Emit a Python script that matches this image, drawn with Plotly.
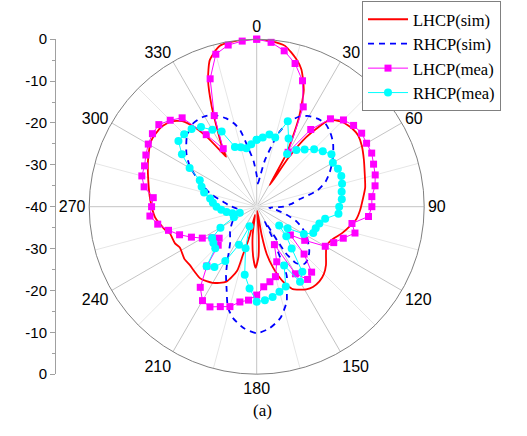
import plotly.graph_objects as go

# ---------------- data ----------------
lhcp_sim_theta = [0, 5, 10, 15, 18, 22, 25.6, 29.3, 31, 33, 35.5, 40, 45, 51, 55, 60, 66, 72, 80, 86,
                  92, 97, 102, 107, 112, 117, 120, 125, 130, 135, 140, 145, 149, 153, 156.4, 160.8,
                  165, 168, 170, 172, 176, 178, 181, 184, 188, 190, 192, 193.5, 195, 196, 197, 202,
                  210, 218, 229, 234, 242, 246, 253, 256, 264, 274, 284, 293, 302, 310, 315, 319,
                  322, 324.5, 327, 328.5, 330, 332.4, 335.8, 339, 342.3, 347, 354, 360]
lhcp_sim_r = [0, -0.3, -1.0, -3.5, -5.5, -10, -17, -25.4, -34, -26, -19.5, -13, -11.3, -10.5, -10.4,
              -11, -12, -12.9, -13.7, -14.6, -15.3, -16, -17.3, -18.6, -20, -20.8, -20.8, -19.8,
              -18.4, -17.3, -16.7, -16.6, -17, -17.8, -18.5, -21.2, -25, -28.4, -33, -39, -33, -28,
              -25.4, -28, -33, -37, -38, -33, -30, -28, -24, -20.7, -19, -18.2, -18.8, -18.7, -19.2,
              -18.6, -18.3, -17.4, -15.6, -14.5, -13.3, -11.8, -10.3, -10.3, -11.2, -12.9, -15.9,
              -19.5, -24, -26, -23.5, -20.2, -13.8, -7.6, -3.2, -0.6, 0, 0]

rhcp_sim_theta = [0, 3, 6, 10, 14, 16.5, 20, 25, 30, 35, 40, 45, 50, 55, 60, 65, 70, 75, 80, 85, 90,
                  95, 100, 105, 110, 115, 120, 125, 130, 135, 140, 145, 148, 151, 153, 154.5, 155.5,
                  156.5, 160, 162.5, 168, 174, 180, 186, 192, 196, 200, 204, 207, 212, 217, 227, 237,
                  247, 257, 265, 272, 278.5, 286, 294.6, 301, 307, 315, 322, 329, 335, 341, 345, 348,
                  352, 356, 360]
rhcp_sim_r = [-32.5, -34.5, -33, -28.7, -24.8, -21.7, -18.8, -16.3, -15, -14.4, -14.3, -15.1, -16.2,
              -17.7, -19.2, -20.8, -22.5, -25, -29.5, -31.5, -33.6, -37, -35, -32.6, -30, -28, -26.3,
              -25, -23.6, -22.6, -22.2, -23.5, -27, -36, -32, -29, -25, -22, -19, -16.2, -12.8,
              -10.8, -9.8, -10.8, -12.8, -15, -19, -22, -24.3, -27.5, -29.5, -31.3, -33, -34.8, -36,
              -35.2, -33.5, -31.9, -28.4, -24.7, -21.4, -19, -16.4, -15, -15, -15.8, -17.7, -19.5,
              -21.5, -26, -29, -32.5]

mea_theta = list(range(0, 365, 5))
lhcp_mea_r = [0, -0.6, -2.2, -4.6, -8.0, -13.7, -25.0, -17.5, -12.6, -10.7, -9.8, -9.4, -9.7, -9.7,
              -10.3, -10.7, -11.3, -12.4, -12.5, -13.2, -16.9, -15.7, -18.0, -19.7, -21.1, -26.0,
              -29.5, -24.0, -19.6, -18.8, -21.5, -30.0, -26.0, -22.7, -21.8, -20.8, -18.9, -17.6,
              -16.9, -15.3, -14.6, -13.6, -14.1, -16.5, -21.5, -27.0, -28.3, -27.0, -25.0, -22.8,
              -20.4, -18.2, -16.0, -14.4, -14.9, -15.2, -12.7, -11.6, -11.5, -10.8, -10.1, -9.6,
              -9.5, -10.8, -12.3, -19.0, -24.0, -16.0, -7.5, -2.3, -0.8, -0.3, 0]
rhcp_mea_r = [-24.0, -23.4, -22.5, -22.9, -18.3, -22.0, -25.5, -23.5, -22.2, -20.6, -19.4, -18.2,
              -19.0, -18.6, -18.5, -18.9, -19.4, -19.6, -20.3, -20.4, -23.4, -24.5, -25.0, -25.1,
              -27.0, -31.0, -33.0, -30.0, -27.0, -21.0, -19.3, -24.5, -19.7, -19.0, -18.1, -17.6,
              -17.3, -20.4, -23.5, -29.7, -35.0, -30.0, -25.0, -22.4, -21.4, -26.0, -26.5, -27.0,
              -30.0, -34.0, -35.7, -34.0, -32.7, -31.5, -30.4, -29.5, -28.7, -27.0, -26.0, -25.0,
              -21.5, -18.2, -15.6, -15.5, -15.8, -16.8, -18.8, -20.2, -24.8, -25.3, -25.8, -25.0,
              -24.0]

angle_ticks = list(range(0, 360, 30))
minor_spokes = list(range(15, 360, 30))
r_min, r_max = -40, 0
left_tickvals = [-40, -30, -20, -10, 0, 10, 20, 30, 40]
left_ticktext = ["0", "-10", "-20", "-30", "-40", "-30", "-20", "-10", "0"]
left_minor = [-35, -25, -15, -5, 5, 15, 25, 35]

# ---------------- figure ----------------
W, H = 527, 436
cx, cy, R = 256.7, 206.7, 167.5
dom_x = [(cx - R) / W, (cx + R) / W]
dom_y = [1 - (cy + R) / H, 1 - (cy - R) / H]
SANS = "Liberation Sans, Arial, sans-serif"
SERIF = "Liberation Serif, Times New Roman, serif"

fig = go.Figure()

# light minor spokes
sp_t, sp_r = [], []
for a in minor_spokes:
    sp_t += [a, a, None]
    sp_r += [r_min, r_max, None]
fig.add_trace(go.Scatterpolar(theta=sp_t, r=sp_r, mode="lines",
                              line=dict(color="#e6e6e6", width=1),
                              showlegend=False, hoverinfo="skip"))

fig.add_trace(go.Scatterpolar(theta=lhcp_sim_theta, r=lhcp_sim_r, mode="lines",
                              name="LHCP(sim)", line=dict(color="#ff0000", width=1.8, shape="spline", smoothing=0.6)))
fig.add_trace(go.Scatterpolar(theta=rhcp_sim_theta, r=rhcp_sim_r, mode="lines",
                              name="RHCP(sim)", line=dict(color="#0000ff", width=1.8, dash="6px,5px",
                                                          shape="spline", smoothing=0.6)))
fig.add_trace(go.Scatterpolar(theta=mea_theta, r=lhcp_mea_r, mode="lines+markers",
                              name="LHCP(mea)", line=dict(color="#ff00ff", width=1),
                              marker=dict(symbol="square", size=7, color="#ff00ff")))
fig.add_trace(go.Scatterpolar(theta=mea_theta, r=rhcp_mea_r, mode="lines+markers",
                              name="RHCP(mea)", line=dict(color="#00ffff", width=1),
                              marker=dict(symbol="circle", size=8, color="#00ffff")))

# helper trace for the left scale
fig.add_trace(go.Scatter(x=[0], y=[0], mode="markers", marker=dict(opacity=0),
                         showlegend=False, hoverinfo="skip", xaxis="x", yaxis="y"))

fig.update_layout(
    template="none",
    width=W, height=H,
    margin=dict(l=0, r=0, t=0, b=0, pad=0, autoexpand=False),
    paper_bgcolor="white", plot_bgcolor="rgba(0,0,0,0)",
    font=dict(family=SANS, size=14, color="black"),
    polar=dict(
        domain=dict(x=dom_x, y=dom_y),
        bgcolor="white",
        radialaxis=dict(range=[r_min, r_max], showgrid=False, showline=False,
                        showticklabels=False, ticks=""),
        angularaxis=dict(rotation=90, direction="clockwise", tickmode="array",
                         tickvals=angle_ticks, ticktext=[str(a) for a in angle_ticks],
                         showline=True, linecolor="#808080", linewidth=1,
                         gridcolor="#c4c4c4", gridwidth=1, ticks="",
                         tickfont=dict(family=SANS, size=16)),
    ),
    xaxis=dict(domain=[56 / W, 0.15], visible=False, range=[0, 1], fixedrange=True, automargin=False),
    yaxis=dict(domain=dom_y, range=[-40, 40], anchor="x", showline=True, linecolor="#a0a0a0",
               linewidth=1, tickmode="array", tickvals=left_tickvals, ticktext=left_ticktext,
               ticks="outside", ticklen=5, tickcolor="#a0a0a0", showgrid=False, zeroline=False,
               automargin=False,
               minor=dict(tickvals=left_minor, ticks="outside", ticklen=3, tickcolor="#a0a0a0"),
               tickfont=dict(family=SANS, size=15)),
    legend=dict(x=362 / W, y=1 - 1 / H, xanchor="left", yanchor="top",
                bgcolor="white", bordercolor="#808080", borderwidth=1,
                font=dict(family=SERIF, size=16.5),
                itemwidth=40, tracegroupgap=0),
    annotations=[dict(text="(a)", x=262 / W, y=1 - 422 / H, xref="paper", yref="paper",
                      showarrow=False, font=dict(family=SERIF, size=17))],
)

fig.write_html("out.html")
